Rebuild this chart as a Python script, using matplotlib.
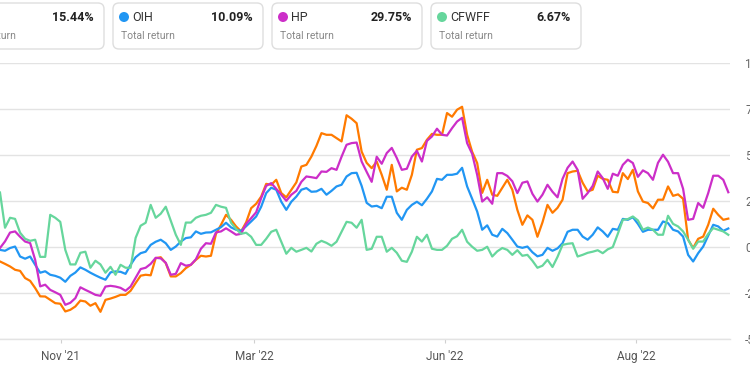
import matplotlib
matplotlib.use("Agg")
import matplotlib.pyplot as plt
from matplotlib.patches import FancyBboxPatch, Circle
from matplotlib.transforms import IdentityTransform

# ---------------- data ----------------
series_names = ["", "OIH", "HP", "CFWFF"]
total_returns = ["15.44%", "10.09%", "29.75%", "6.67%"]
series_colors = ["#ff7a00", "#2196f3", "#cc2ec8", "#66d69c"]

orange = [-7.8, -9.1, -10.5, -12.3, -12.9, -16.8, -18.3, -22.2, -26.7, -26.8,
          -28.6, -30.4, -30.7, -34.9, -34.0, -32.2, -29.0, -29.5, -31.8, -30.4,
          -35.1, -28.6, -27.9, -27.0, -25.9, -25.9, -23.7, -19.5, -15.5, -15.0,
          -15.3, -6.0, -5.5, -8.7, -15.9, -15.9, -14.1, -11.4, -9.6, -6.9,
          -4.7, -5.1, -4.7, 7.2, 12.1, 17.5, 14.8, 11.2, 8.5, 13.4,
          21.1, 23.5, 27.4, 34.3, 33.8, 36.5, 29.3, 27.0, 31.1, 35.1,
          43.7, 44.6, 49.1, 54.9, 61.8, 60.9, 60.9, 59.1, 57.3, 71.5,
          69.6, 67.2, 51.8, 45.7, 42.8, 46.4, 39.2, 31.1, 44.6, 30.2,
          32.2, 31.1, 39.2, 52.8, 53.7, 58.2, 61.4, 60.9, 60.9, 72.7,
          70.7, 74.5, 76.1, 60.9, 51.7, 45.6, 29.4, 36.5, 28.4, 27.8,
          32.2, 36.5, 31.1, 20.2, 12.1, 17.2, 14.8, 5.6, 13.4, 22.9,
          18.6, 21.3, 25.7, 40.1, 41.0, 41.4, 34.9, 30.2, 31.1, 38.7,
          37.0, 36.5, 30.0, 29.7, 40.1, 36.9, 41.9, 30.2, 24.7, 23.9,
          21.0, 25.7, 25.7, 32.9, 27.8, 28.6, 26.2, 4.0, -0.5, 4.5,
          5.7, 12.1, 20.8, 17.5, 14.8, 15.44]

oih = [-1.5, -2.0, -0.5, 0.3, -5.1, -6.3, -5.1, -9.6, -13.9, -13.1,
       -15.0, -15.6, -16.6, -18.8, -15.6, -13.8, -11.0, -12.3, -13.9, -15.3,
       -16.6, -17.7, -13.7, -13.2, -13.4, -14.5, -9.6, -5.5, -3.3, -2.5,
       1.2, 2.9, 4.0, 2.1, -1.5, 0.3, 3.0, 4.9, 5.3, 8.5,
       7.2, 7.9, 8.0, 9.4, 10.8, 13.2, 10.7, 9.4, 8.8, 11.3,
       13.9, 16.6, 21.9, 29.3, 32.2, 31.1, 24.6, 20.2, 24.6, 27.4,
       31.1, 32.0, 30.0, 30.2, 31.6, 28.4, 30.5, 32.9, 33.8, 38.3,
       40.1, 40.3, 33.2, 24.0, 22.0, 22.4, 21.1, 27.3, 27.3, 18.6,
       14.8, 20.2, 22.9, 24.6, 22.7, 26.2, 30.2, 37.0, 36.5, 39.2,
       39.2, 39.8, 43.0, 32.9, 26.2, 19.3, 9.4, 11.8, 6.7, 5.7,
       9.9, 7.6, 4.0, 0.3, -0.4, 0.3, -2.8, -5.0, -4.2, -0.4,
       -2.0, -0.7, 2.1, 8.3, 9.4, 9.4, 5.7, 4.0, 6.7, 10.7,
       8.5, 5.6, 9.9, 9.4, 15.3, 14.8, 16.2, 12.6, 8.3, 9.4,
       9.4, 9.4, 13.9, 13.0, 9.4, 8.5, 5.7, -4.2, -7.8, -3.3,
       0.3, 6.2, 12.1, 11.2, 8.8, 10.09]

hp = [-0.5, 3.1, 7.9, 8.5, 5.6, 3.0, 2.2, -6.9, -21.3, -20.4,
      -23.2, -24.5, -25.9, -31.3, -30.2, -27.7, -21.8, -23.2, -24.5, -25.9,
      -26.4, -21.4, -21.0, -21.4, -22.1, -23.7, -21.4, -16.6, -11.9, -11.2,
      -9.1, -5.8, -6.1, -8.5, -15.0, -14.5, -8.7, -10.1, -9.6, -6.6,
      -0.9, 2.1, 1.8, 8.0, 8.5, 10.2, 8.5, 6.7, 7.2, 12.6,
      15.7, 18.9, 26.6, 33.2, 34.7, 31.6, 28.4, 25.1, 28.4, 30.5,
      35.4, 38.3, 37.9, 37.4, 41.0, 40.8, 42.8, 41.9, 49.0, 55.5,
      56.4, 56.7, 46.4, 40.8, 35.4, 49.0, 45.2, 51.0, 53.8, 48.3,
      41.9, 42.5, 49.1, 52.2, 46.4, 57.6, 60.0, 64.2, 60.9, 60.5,
      64.5, 68.1, 70.1, 56.4, 50.6, 39.2, 24.7, 27.0, 23.5, 40.1,
      40.1, 38.6, 35.7, 29.3, 34.9, 35.6, 28.9, 24.7, 28.4, 33.8,
      30.0, 27.0, 37.0, 43.0, 46.4, 41.9, 26.2, 29.3, 33.2, 41.0,
      37.4, 31.6, 39.8, 38.7, 44.6, 47.4, 45.6, 38.1, 41.6, 40.1,
      36.5, 45.7, 50.1, 46.3, 40.1, 40.1, 31.6, 14.8, 15.3, 23.9,
      21.3, 29.3, 38.7, 38.7, 36.5, 29.75]

cfwff = [29.6, 10.5, 15.9, 15.3, 7.8, 4.5, 3.4, 4.0, -5.3, -5.3,
         17.5, 15.9, 13.7, -1.5, -9.4, -9.4, -3.1, -2.5, -11.2, -7.4,
         -9.4, -13.9, -10.7, -15.0, -9.6, -11.2, -11.2, 5.0, 11.6, 13.2,
         22.9, 15.9, 18.1, 21.9, 14.3, 6.7, 1.2, 13.3, 13.3, 15.9,
         17.0, 17.5, 18.6, 22.9, 21.9, 21.3, 13.2, 9.9, 7.2, 7.8,
         5.6, 1.2, 1.2, 4.5, 8.3, 9.4, 2.9, -3.6, -0.4, -2.5,
         -1.5, -0.4, -2.4, 1.8, 3.4, 2.3, 0.7, 2.9, 8.3, 13.7,
         13.2, 10.5, 14.8, -1.5, -0.9, 5.6, 5.6, -2.5, -0.4, -3.1,
         -7.4, -8.0, -2.5, 5.6, 3.0, 6.7, -0.9, -1.5, -1.5, 0.7,
         4.5, 5.9, 9.4, 2.9, 0.2, -2.0, -1.5, 0.2, -5.1, -2.3,
         -0.5, -1.5, -4.2, -1.7, -4.7, -4.2, -7.4, -11.2, -10.1, -6.9,
         -10.8, -5.3, 1.2, 1.8, 2.1, -5.1, -4.2, -3.1, -2.5, -1.7,
         -3.3, -1.2, 0.0, 7.2, 14.8, 15.2, 16.6, 14.5, 9.4, 10.6,
         9.4, 6.7, 6.7, 17.0, 12.6, 11.2, 8.5, 4.0, -0.9, 3.0,
         3.0, 7.2, 10.3, 9.4, 8.5, 6.67]

x_tick_index = [12.1, 50.6, 88.6, 126.6]
x_tick_labels = ["Nov '21", "Mar '22", "Jun '22", "Aug '22"]
y_ticks = [-50, -25, 0, 25, 50, 75, 100]
y_tick_labels = ["-50%", "-25%", "0%", "25%", "50%", "75%", "100%"]

# ---------------- figure ----------------
plt.rcParams['font.family'] = ['Roboto', 'DejaVu Sans']
W, H = 750, 375
fig = plt.figure(figsize=(W / 100, H / 100), dpi=100)
fig.patch.set_facecolor("white")

ax_left_px, ax_right_px = 0, 730
ax_top_px, ax_bot_px = 62.7, 339.3
ax = fig.add_axes([ax_left_px / W, (H - ax_bot_px) / H,
                   (ax_right_px - ax_left_px) / W, (ax_bot_px - ax_top_px) / H])

all_series = [orange, oih, hp, cfwff]
n = len(orange)
xs = list(range(n))
for vals, col in zip(all_series, series_colors):
    ax.plot(xs, vals, color=col, lw=1.6, solid_joinstyle="round", zorder=3)

last_px = 728.3
ax.set_xlim(0, (n - 1) * ax_right_px / last_px)
ax.set_ylim(-50, 100)

ax.set_yticks(y_ticks)
ax.set_yticklabels(y_tick_labels)
ax.yaxis.tick_right()
ax.tick_params(axis="y", length=0, pad=11, labelsize=8.5, labelcolor="#666666")
ax.grid(axis="y", color="#e3e3e3", lw=1.0, zorder=0)

ax.set_xticks(x_tick_index)
ax.set_xticklabels(x_tick_labels)
ax.tick_params(axis="x", length=3, width=0.8, color="#d0d0d0", pad=5,
               labelsize=8.5, labelcolor="#555555")

for s in ["top", "left", "right"]:
    ax.spines[s].set_visible(False)
ax.spines["bottom"].set_color("#e3e3e3")
ax.spines["bottom"].set_linewidth(1.0)

# ---------------- legend cards ----------------
idt = IdentityTransform()
card_w, card_top, card_bot = 150, 3, 49
for k in range(4):
    L = -46 + 159 * k
    box = FancyBboxPatch((L, H - card_bot), card_w, card_bot - card_top,
                         boxstyle="round,pad=0,rounding_size=6",
                         transform=idt, facecolor="white", edgecolor="#dedede",
                         lw=1.0, zorder=5)
    fig.patches.append(box)
    if series_names[k]:
        fig.patches.append(Circle((L + 11, H - 17), 5, transform=idt,
                                  facecolor=series_colors[k], edgecolor="none", zorder=6))
        fig.text(L + 19, H - 17.5, series_names[k], transform=idt, ha="left", va="center",
                 fontsize=9, color="#333333", zorder=7)
    fig.text(L + 140, H - 17.5, total_returns[k], transform=idt, ha="right", va="center",
             fontsize=9, fontweight="bold", color="#222222", zorder=7)
    fig.text(L + 8, H - 36, "Total return", transform=idt, ha="left", va="center",
             fontsize=7.5, color="#888888", zorder=7)

fig.savefig("out.png", dpi=100)
